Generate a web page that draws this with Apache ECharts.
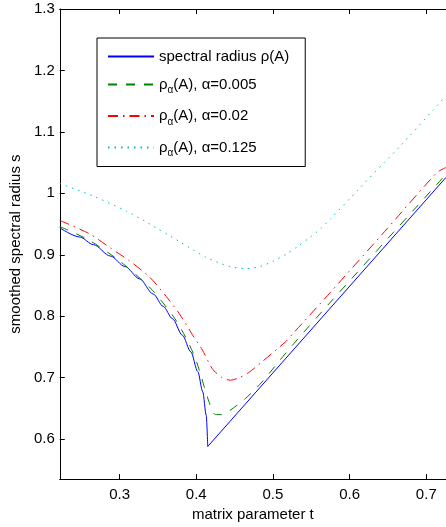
<!DOCTYPE html>
<html>
<head>
<meta charset="utf-8">
<script src="https://cdn.jsdelivr.net/npm/echarts@6/dist/echarts.min.js"></script>
<style>
html,body{margin:0;padding:0;background:#fff;}
#chart{width:446px;height:527px;}
</style>
</head>
<body>
<div id="chart"></div>
<script>
// ---- data ----
const xTicks = [0.3, 0.4, 0.5, 0.6, 0.7];
const yTicks = [0.6, 0.7, 0.8, 0.9, 1.0, 1.1, 1.2, 1.3];

const seriesNames = ['spectral radius ρ(A)', 'ρα(A), α=0.005', 'ρα(A), α=0.02', 'ρα(A), α=0.125'];

// spectral radius: curved branch up to the cusp, then straight branch
const tRhoLeft = [0.222, 0.248, 0.266, 0.288, 0.307, 0.326, 0.344, 0.357, 0.369, 0.382, 0.393, 0.402, 0.4085, 0.413, 0.415];
const vRhoLeft = [0.944, 0.929, 0.9165, 0.898, 0.881, 0.861, 0.836, 0.816, 0.796, 0.769, 0.742, 0.710, 0.677, 0.639, 0.588];
const tRhoRight = [0.415, 0.7257];
const vRhoRight = [0.588, 1.026];

const tA005 = [0.222, 0.260, 0.300, 0.340, 0.370, 0.387, 0.399, 0.405, 0.4163, 0.425, 0.433, 0.442, 0.464, 0.4858, 0.5074, 0.529, 0.575, 0.7257];
const vA005 = [0.946, 0.924, 0.890, 0.846, 0.800, 0.764, 0.731, 0.708, 0.662, 0.640, 0.640, 0.645, 0.666, 0.693, 0.726, 0.758, 0.823, 1.031];

const tA02 = [0.222, 0.261, 0.287, 0.313, 0.339, 0.361, 0.378, 0.395, 0.408, 0.4207, 0.4325, 0.4445, 0.456, 0.468, 0.4858, 0.516, 0.527, 0.575, 0.650, 0.714, 0.7257];
const vA02 = [0.956, 0.934, 0.912, 0.890, 0.864, 0.832, 0.804, 0.770, 0.745, 0.715, 0.701, 0.696, 0.700, 0.708, 0.726, 0.758, 0.773, 0.839, 0.944, 1.034, 1.042];

const tA125 = [0.222, 0.265, 0.309, 0.3326, 0.349, 0.364, 0.380, 0.396, 0.4124, 0.4293, 0.447, 0.4654, 0.4836, 0.501, 0.5174, 0.5327, 0.547, 0.5617, 0.5747, 0.612, 0.645, 0.666, 0.709, 0.7257];
const vA125 = [1.016, 0.996, 0.971, 0.955, 0.943, 0.932, 0.920, 0.908, 0.896, 0.887, 0.880, 0.8775, 0.881, 0.890, 0.901, 0.914, 0.927, 0.942, 0.958, 1.007, 1.050, 1.077, 1.136, 1.159];

// ---- chart ----
const FONT = 'Liberation Sans, Arial, Helvetica, sans-serif';
const FS = 15;
const pairs = (ts, vs) => ts.map((t, i) => [t, vs[i]]);
const fmt = v => String(+(+v).toFixed(1));

const chart = echarts.init(document.getElementById('chart'), null, {renderer: 'canvas'});

const axisCommon = {
  type: 'value',
  splitLine: {show: false},
  axisLine: {show: true, onZero: false, lineStyle: {color: '#000', width: 1}},
  axisTick: {show: true, inside: true, length: 5, lineStyle: {color: '#000', width: 1}},
};

function legendLabel(name) {
  if (name.indexOf('ρα') === 0) {
    return '{t|ρ}{s|α}{t|' + name.slice(2) + '}';
  }
  return '{t|' + name + '}';
}

chart.setOption({
  animation: false,
  backgroundColor: '#fff',
  textStyle: {fontFamily: FONT, color: '#000'},
  grid: {left: 59, top: 9, right: 0, bottom: 46, containLabel: false},
  xAxis: [
    Object.assign({}, axisCommon, {
      position: 'bottom', min: 0.222, max: 0.7257,
      axisTick: Object.assign({}, axisCommon.axisTick, {customValues: xTicks}),
      axisLabel: {customValues: xTicks, formatter: fmt, fontSize: FS, color: '#000', fontFamily: FONT, margin: 8},
      name: 'matrix parameter t', nameLocation: 'middle', nameGap: 25,
      nameTextStyle: {fontSize: FS, color: '#000', fontFamily: FONT}
    }),
    Object.assign({}, axisCommon, {
      position: 'top', min: 0.222, max: 0.7257,
      axisTick: Object.assign({}, axisCommon.axisTick, {customValues: xTicks}),
      axisLabel: {show: false}
    })
  ],
  yAxis: [
    Object.assign({}, axisCommon, {
      position: 'left', min: 0.535, max: 1.3,
      axisTick: Object.assign({}, axisCommon.axisTick, {customValues: yTicks}),
      axisLabel: {customValues: yTicks, formatter: fmt, fontSize: FS, color: '#000', fontFamily: FONT, margin: 5},
      name: 'smoothed spectral radius s', nameLocation: 'middle', nameGap: 33, nameRotate: 90,
      nameTextStyle: {fontSize: FS, color: '#000', fontFamily: FONT}
    })
  ],
  legend: {
    orient: 'vertical', left: 97, top: 38,
    data: seriesNames,
    backgroundColor: '#fff', borderColor: '#000', borderWidth: 1, borderRadius: 0,
    padding: [11, 16, 8, 10],
    itemWidth: 46, itemHeight: 14, itemGap: 13,
    selectedMode: false,
    itemStyle: {opacity: 0, borderWidth: 0},
    formatter: legendLabel,
    textStyle: {
      fontFamily: FONT, color: '#000', fontSize: FS,
      rich: {
        t: {fontSize: FS, fontFamily: FONT, color: '#000', lineHeight: 18},
        s: {fontSize: 10, fontFamily: FONT, color: '#000', padding: [12, 0, 0, 0]}
      }
    }
  },
  series: [
    {name: seriesNames[0], type: 'line', data: pairs(tRhoLeft, vRhoLeft), showSymbol: false, symbol: 'none',
     smooth: 0.3, smoothMonotone: 'x',
     lineStyle: {color: '#0000ff', width: 1, type: 'solid'}, itemStyle: {color: '#0000ff'}},
    {name: seriesNames[0], type: 'line', data: pairs(tRhoRight, vRhoRight), showSymbol: false, symbol: 'none',
     lineStyle: {color: '#0000ff', width: 1, type: 'solid'}, itemStyle: {color: '#0000ff'}},
    {name: seriesNames[1], type: 'line', data: pairs(tA005, vA005), showSymbol: false, symbol: 'none', smooth: 0.25,
     lineStyle: {color: '#008000', width: 1, type: [9, 9]}, itemStyle: {color: '#008000'}},
    {name: seriesNames[2], type: 'line', data: pairs(tA02, vA02), showSymbol: false, symbol: 'none', smooth: 0.25,
     lineStyle: {color: '#ff0000', width: 1, type: [10, 5, 1.5, 5]}, itemStyle: {color: '#ff0000'}},
    {name: seriesNames[3], type: 'line', data: pairs(tA125, vA125), showSymbol: false, symbol: 'none', smooth: 0.25,
     lineStyle: {color: '#00bfbf', width: 1, type: [1.5, 5]}, itemStyle: {color: '#00bfbf'}}
  ]
});
</script>
</body>
</html>
